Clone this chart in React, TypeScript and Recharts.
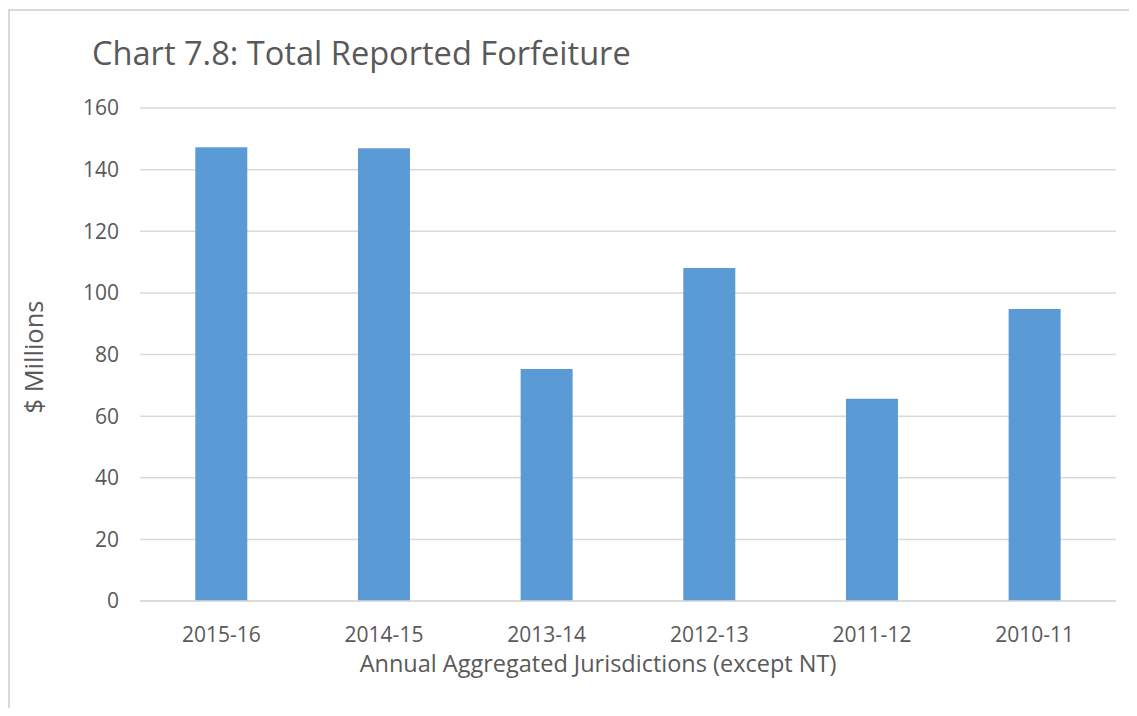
import { BarChart, Bar, XAxis, YAxis, CartesianGrid, Label } from "recharts";

const years = ["2015-16", "2014-15", "2013-14", "2012-13", "2011-12", "2010-11"];
const forfeiture = [147.3, 146.9, 75.3, 108.1, 65.6, 94.8];
const yTicks = [0, 20, 40, 60, 80, 100, 120, 140, 160];

const data = years.map((year, i) => ({ year, value: forfeiture[i] }));

const FONT = "'Open Sans', sans-serif";
const TEXT = "#595959";

function YTitle() {
  return (
    <text
      x={25}
      y={349}
      transform="rotate(-90 25 349)"
      textAnchor="middle"
      dominantBaseline="central"
      fill={TEXT}
      fontSize={25.5}
      fontFamily={FONT}
    >
      $ Millions
    </text>
  );
}

export default function App() {
  return (
    <div style={{ position: "relative", width: 1129, height: 700, fontFamily: FONT }}>
      <div
        style={{
          position: "absolute",
          left: 0,
          top: 1,
          width: 1140,
          height: 720,
          borderLeft: "2px solid #d9d9d9",
          borderTop: "2px solid #d9d9d9",
        }}
      />
      <div
        style={{
          position: "absolute",
          left: 84,
          top: 22,
          fontSize: 32.6,
          color: TEXT,
          whiteSpace: "nowrap",
        }}
      >
        Chart 7.8: Total Reported Forfeiture
      </div>
      <BarChart
        width={1129}
        height={700}
        data={data}
        margin={{ top: 100, right: 21, bottom: 77, left: 0 }}
        barCategoryGap="34%"
      >
        <CartesianGrid vertical={false} stroke="#d9d9d9" strokeWidth={1.5} />
        <XAxis
          dataKey="year"
          height={30}
          axisLine={{ stroke: "#d9d9d9", strokeWidth: 1.5 }}
          tickLine={false}
          tickMargin={20}
          tick={{ fill: TEXT, fontSize: 21, fontFamily: FONT }}
        >
          <Label
            value="Annual Aggregated Jurisdictions (except NT)"
            position="bottom"
            offset={24}
            dx={-30}
            fill={TEXT}
            fontSize={23.5}
            fontFamily={FONT}
          />
        </XAxis>
        <YAxis
          width={132}
          domain={[0, 160]}
          ticks={yTicks}
          axisLine={false}
          tickLine={false}
          tickMargin={15}
          tick={{ fill: TEXT, fontSize: 21, fontFamily: FONT }}
          label={<YTitle />}
        />
        <Bar dataKey="value" fill="#5b9bd5" isAnimationActive={false} />
      </BarChart>
    </div>
  );
}
